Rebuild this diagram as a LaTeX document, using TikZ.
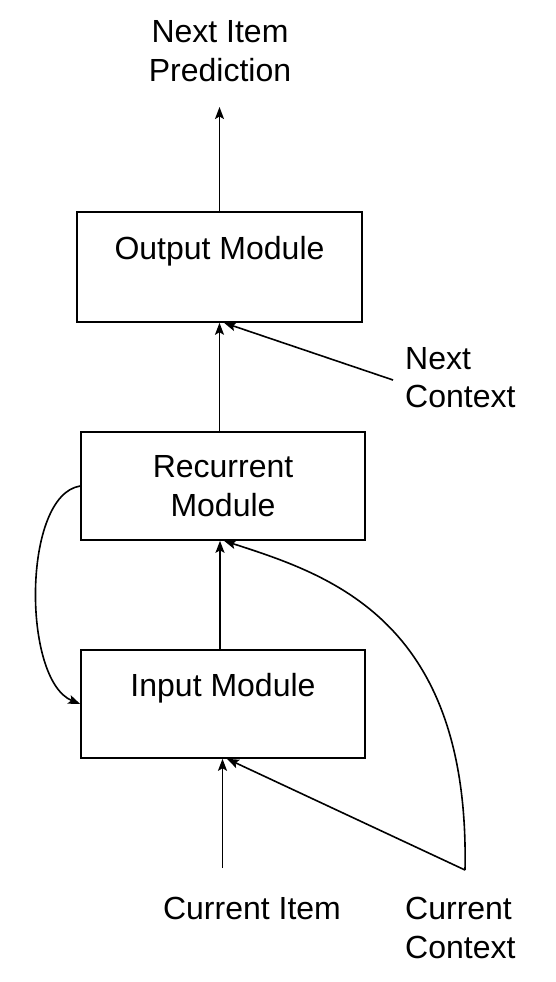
\documentclass[tikz,border=0pt]{standalone}
\usepackage{fontspec}
\setmainfont{Liberation Sans}
\usetikzlibrary{arrows.meta}
\tikzset{
  modbox/.style={draw, line width=1.6pt, align=center, inner sep=0pt,
    font=\fontsize{32}{38.5}\selectfont},
  lbl/.style={inner sep=0pt, font=\fontsize{32}{38.5}\selectfont},
  arr/.style={line width=1.6pt, -{Stealth[length=12pt,width=9pt,inset=2.5pt]}}
}
\begin{document}
\begin{tikzpicture}[x=1pt,y=-1pt]
\useasboundingbox (0,0) rectangle (555,982);
% boxes
\node[modbox, minimum width=285pt, minimum height=110pt] (out) at (219.5,267) {Output Module\\\mbox{}};
\node[modbox, minimum width=284pt, minimum height=108pt] (rec) at (223,486) {Recurrent\\Module};
\node[modbox, minimum width=284pt, minimum height=108pt] (inp) at (223,704) {Input Module\\\mbox{}};
% labels
\node[lbl, align=center] (nip) at (220,51) {Next Item\\Prediction};
\node[lbl, align=left, anchor=west] (nc) at (405,377.5) {Next\\Context};
\node[lbl] (ci) at (252,908) {Current Item};
\node[lbl, align=left, anchor=west] (cc) at (405,928) {Current\\Context};
% free ends
\coordinate (nipend) at (219.5,107);
\coordinate (ncstart) at (393,380);
\coordinate (cistart) at (222.5,868);
\coordinate (ccstart) at (465,870);
% connectors
\draw[arr] (out.north) -- (nipend);
\draw[arr] (out.south |- rec.north) -- (out.south);
\draw[arr] (ncstart) -- ([xshift=4.5pt]out.south);
\draw[arr] ([xshift=-3pt]inp.north) -- ([xshift=-3pt]rec.south);
\draw[arr] (rec.west) .. controls (22,495) and (22,680) .. (inp.west);
\draw[arr] (cistart) -- (cistart |- inp.south);
\draw[arr] (ccstart) -- ([xshift=4pt]inp.south);
\draw[arr] (ccstart) .. controls (470,620) and (330,575) .. ([xshift=1pt]rec.south);
\end{tikzpicture}
\end{document}
